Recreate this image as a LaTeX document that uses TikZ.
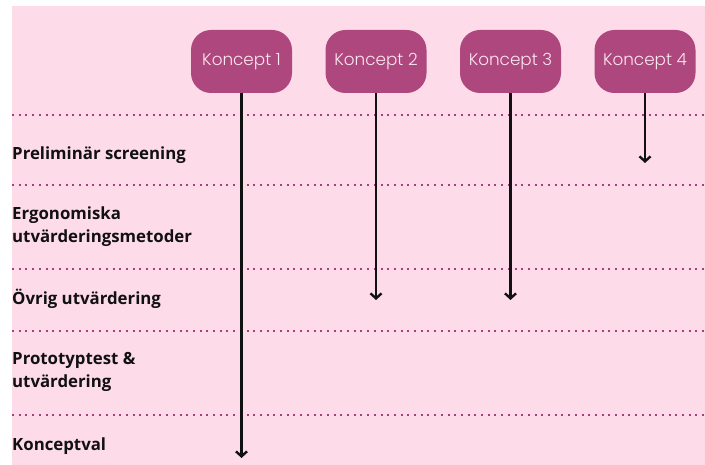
\documentclass[tikz,border=0pt]{standalone}
\usepackage{fontspec}
\setmainfont{Open Sans}[BoldFont={Open Sans Bold}]
\newfontfamily\boxfont{Poppins Light}
\usepackage{xcolor}
\usepackage{tikz}
\usetikzlibrary{arrows.meta}
\definecolor{pagebg}{HTML}{FFFFFF}
\definecolor{panelbg}{HTML}{FEDBE9}
\definecolor{boxfill}{HTML}{AE477D}
\definecolor{boxtext}{HTML}{FCE6F0}
\definecolor{dotline}{HTML}{A8407A}
\definecolor{ink}{HTML}{111111}
\tikzset{
  panel/.style={fill=panelbg, draw=none},
  sep/.style={draw=dotline, line width=2pt, dash pattern=on 2pt off 4.7pt},
  concept/.style={fill=boxfill, rounded corners=20pt, minimum width=101pt, minimum height=63pt, inner sep=0pt, text=boxtext, font=\boxfont\fontsize{16.8}{19}\selectfont},
  phase/.style={anchor=west, align=left, inner sep=0pt, text=ink, font=\bfseries\fontsize{16.8}{23}\selectfont},
  flow/.style={draw=ink, line width=2.4pt, -{Straight Barb[length=5pt,width=11pt]}},
}

\begin{document}
\begin{tikzpicture}[x=1pt,y=-1pt]
  \useasboundingbox[fill=pagebg] (0,0) rectangle (705,465);
  \fill[panel] (12,6) rectangle (705,465);
  % phase separators
  \foreach \y in {115,185,269,331,415}
    \draw[sep] (12,\y) -- (705,\y);
  \node[phase] (p1) at (12,155) {Preliminär screening};
  \node[phase] (p2) at (12,227) {Ergonomiska\\utvärderingsmetoder};
  \node[phase] (p3) at (12,299) {Övrig utvärdering};
  \node[phase] (p4) at (12,372) {Prototyptest \&\\utvärdering};
  \node[phase] (p5) at (12,446) {Konceptval};
  % concepts and how far they go
  \foreach \i/\x/\e in {1/241.5/458,2/376/300,3/510.5/300,4/645/163} {
    \node[concept] (k\i) at (\x,61.5) {Koncept \i};
    \coordinate (e\i) at (\x,\e);
    \draw[flow] (k\i.south) -- (e\i);
  }
\end{tikzpicture}
\end{document}
